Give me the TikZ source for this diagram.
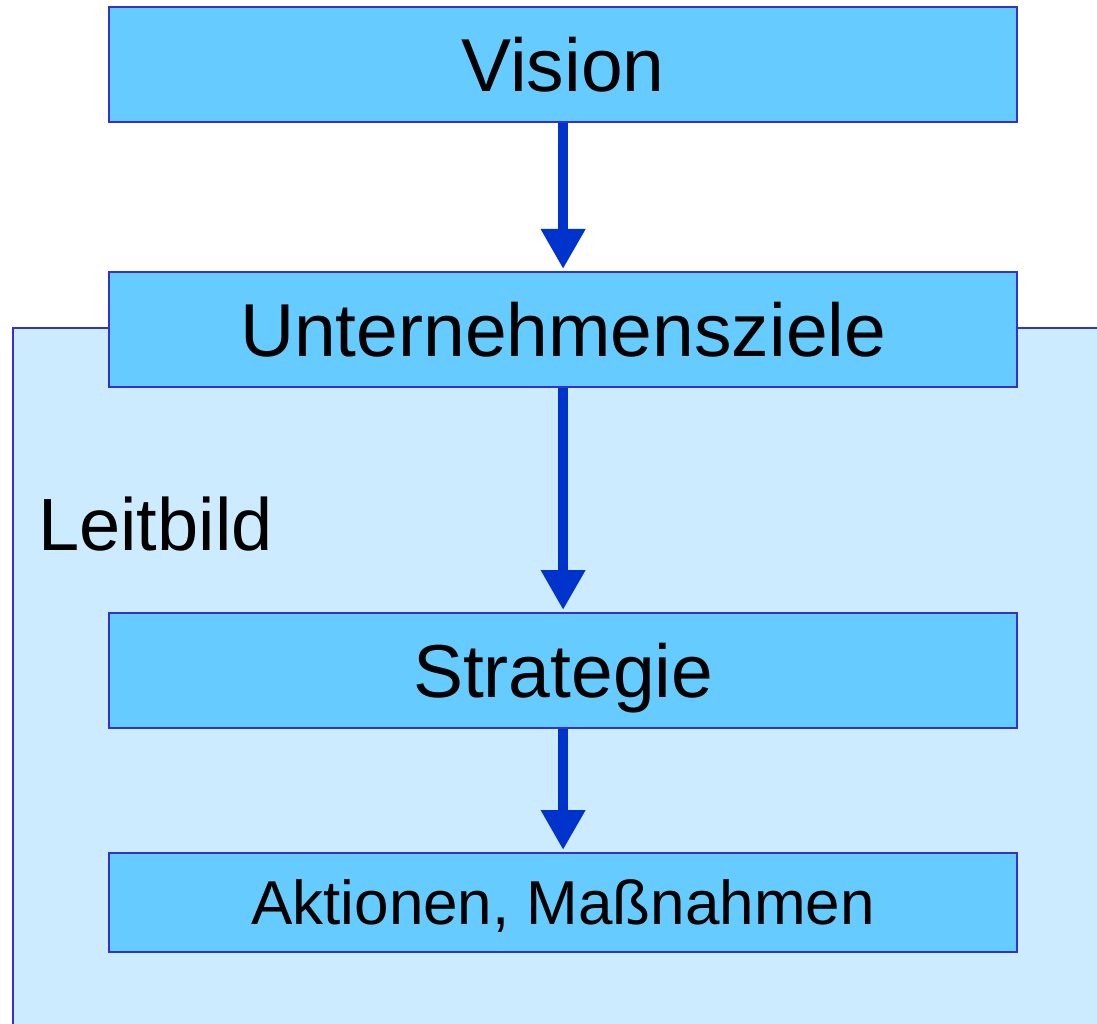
\documentclass[tikz,border=0pt]{standalone}
\usepackage{fontspec}
\setmainfont{Liberation Sans}
\usetikzlibrary{arrows.meta}
\definecolor{boxfill}{HTML}{66CCFF}
\definecolor{panelfill}{HTML}{CCEBFF}
\definecolor{edgeblue}{HTML}{3333CC}
\definecolor{arrowblue}{HTML}{0033CC}
\tikzset{
  stagebox/.style={draw=edgeblue, line width=2.2pt, fill=boxfill, minimum width=908pt, inner sep=0pt, anchor=north west, text=black, text depth=0pt},
  bigbox/.style={stagebox, minimum height=115pt, text height=54pt, font=\fontsize{75}{80}\selectfont},
  smallbox/.style={stagebox, minimum height=99pt, text height=44.6pt, font=\fontsize{62}{66}\selectfont},
  flow/.style={draw=arrowblue, line width=10pt, -{Triangle[length=40pt,width=42pt]}, shorten >=2pt}
}
\begin{document}
\begin{tikzpicture}[x=1pt,y=-1pt]
\useasboundingbox (0,0) rectangle (1097,1024);
\path[fill=panelfill, draw=edgeblue, line width=2.2pt] (1105,1030) -- (13,1030) -- (13,328) -- (1105,328);
\node[bigbox] (vision) at (108,6) {Vision};
\node[bigbox] (ziele) at (108,271) {Unternehmensziele};
\node[bigbox] (strat) at (108,612) {Strategie};
\node[smallbox] (akt) at (108,852) {Aktionen, Maßnahmen};
\node[anchor=base west, inner sep=0pt, font=\fontsize{74}{78}\selectfont] (leit) at (38,550) {Leitbild};
\draw[flow] (vision.south) -- (ziele.north);
\draw[flow] (ziele.south) -- (strat.north);
\draw[flow] (strat.south) -- (akt.north);
\end{tikzpicture}
\end{document}
